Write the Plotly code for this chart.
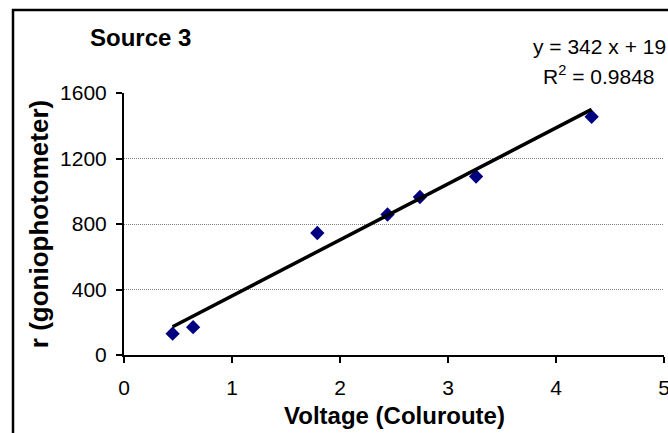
import plotly.graph_objects as go

# Data
voltage = [0.45, 0.64, 1.79, 2.44, 2.74, 3.26, 4.33]
reading = [130, 170, 745, 858, 965, 1090, 1455]

# Linear trend line reported on the chart
slope = 342
intercept = 19
r_squared = 0.9848

x_ticks = [0, 1, 2, 3, 4, 5]
y_ticks = [0, 400, 800, 1200, 1600]

title_text = "Source 3"
x_title = "Voltage (Coluroute)"
y_title = "r (goniophotometer)"

trend_x = [min(voltage), max(voltage)]
trend_y = [slope * v + intercept for v in trend_x]

FONT = "Liberation Sans, Arial, sans-serif"

fig = go.Figure()
fig.add_trace(go.Scatter(
    x=voltage, y=reading, mode="markers",
    marker=dict(symbol="diamond", size=11, color="#000080",
                line=dict(width=0)),
    showlegend=False, cliponaxis=False,
))
fig.add_trace(go.Scatter(
    x=trend_x, y=trend_y, mode="lines",
    line=dict(color="black", width=3.5),
    showlegend=False, cliponaxis=False,
))

W, H = 668, 433
ml, mr, mt, mb = 124, 4, 93, 78
pw = W - ml - mr
ph = H - mt - mb


def px_to_paper_x(px):
    return (px - ml) / pw


def px_to_paper_y(py):
    return (H - mb - py) / ph


fig.update_layout(
    width=W, height=H,
    margin=dict(l=ml, r=mr, t=mt, b=mb, pad=0),
    paper_bgcolor="white", plot_bgcolor="white",
    font=dict(family=FONT, size=21, color="black"),
    xaxis=dict(
        range=[0, 5], tickvals=x_ticks, ticktext=[str(v) for v in x_ticks],
        showgrid=False, zeroline=False,
        showline=True, linecolor="black", linewidth=2,
        ticks="outside", ticklen=6, tickwidth=2, tickcolor="black",
        ticklabelstandoff=7, ticklabeloverflow="allow",
        tickfont=dict(size=21, family=FONT),
        automargin=False,
    ),
    yaxis=dict(
        range=[0, 1600], tickvals=y_ticks, ticktext=[str(v) for v in y_ticks],
        showgrid=True, gridcolor="#808080", gridwidth=1, griddash="1px,1px",
        zeroline=False,
        showline=True, linecolor="black", linewidth=2,
        ticks="outside", ticklen=6, tickwidth=2, tickcolor="black",
        ticklabelstandoff=5, ticklabeloverflow="allow",
        tickfont=dict(size=21, family=FONT),
        title=dict(text="<b>" + y_title + "</b>", font=dict(size=26, family=FONT), standoff=4),
        automargin=False,
    ),
    shapes=[dict(
        type="rect", xref="paper", yref="paper",
        x0=px_to_paper_x(13), x1=px_to_paper_x(800),
        y0=px_to_paper_y(600), y1=px_to_paper_y(10),
        line=dict(color="black", width=2.5), fillcolor="rgba(0,0,0,0)",
        layer="below",
    )],
    annotations=[
        dict(text="<b>" + title_text + "</b>", xref="paper", yref="paper",
             x=px_to_paper_x(88), y=px_to_paper_y(37), xanchor="left", yanchor="middle",
             showarrow=False, font=dict(size=24, family=FONT)),
        dict(text="<b>" + x_title + "</b>", xref="paper", yref="paper",
             x=0.5, y=px_to_paper_y(415), xanchor="center", yanchor="middle",
             showarrow=False, font=dict(size=24, family=FONT)),
        dict(text=f"y = {slope} x + {intercept}", xref="paper", yref="paper",
             x=px_to_paper_x(599), y=px_to_paper_y(46), xanchor="center", yanchor="middle",
             showarrow=False, font=dict(size=21, family=FONT)),
        dict(text=f"R<sup>2</sup> = {r_squared}", xref="paper", yref="paper",
             x=px_to_paper_x(599), y=px_to_paper_y(75), xanchor="center", yanchor="middle",
             showarrow=False, font=dict(size=21, family=FONT)),
    ],
)

fig.write_html("out.html")
